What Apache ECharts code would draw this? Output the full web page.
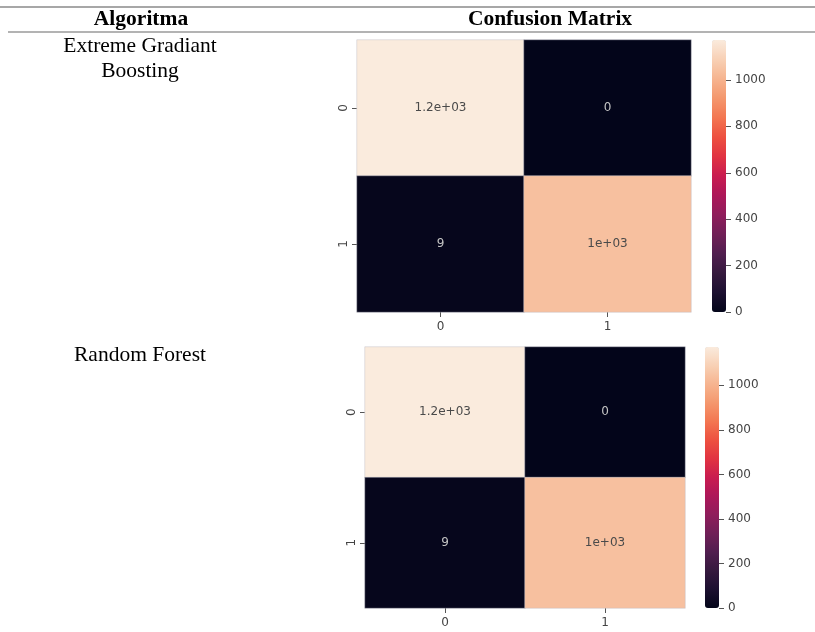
<!DOCTYPE html>
<html>
<head>
<meta charset="utf-8">
<script src="https://cdn.jsdelivr.net/npm/echarts@6/dist/echarts.min.js"></script>
<style>
html,body{margin:0;padding:0;background:#fff;}
#c{width:815px;height:632px;}
</style>
</head>
<body>
<div id="c"></div>
<script>
// ---- data ----
var classLabels = ['0', '1'];
var algorithms = ['Extreme Gradiant\nBoosting', 'Random Forest'];
// confusion matrices [row][col] (row = true label, col = predicted)
var xgbMatrix = [[1172, 0], [9, 1040]];
var rfMatrix = [[1172, 0], [9, 1040]];
var colorbarTicks = [0, 200, 400, 600, 800, 1000];
var headers = ['Algoritma', 'Confusion Matrix'];

// rocket colormap stops
var rocket = ['#03051a', '#1c1030', '#35193e', '#511e4f', '#701f57', '#8f1d5b', '#ad1759', '#c91c50', '#e13342', '#ed5040', '#f37651', '#f4976d', '#f6b48f', '#f8d0b5', '#faebdd'];

function fmt2g(v) {
  if (v === 0) return '0';
  var e = Math.floor(Math.log10(Math.abs(v)));
  if (e >= 2 || e < -4) {
    var m = (v / Math.pow(10, e)).toPrecision(2);
    if (m.indexOf('.') >= 0) m = m.replace(/0+$/, '').replace(/\.$/, '');
    return m + 'e' + (e < 0 ? '-' : '+') + (Math.abs(e) < 10 ? '0' : '') + Math.abs(e);
  }
  return String(Number(v.toPrecision(2)));
}

function buildData(mat) {
  var mx = 0;
  mat.forEach(function (r) { r.forEach(function (v) { mx = Math.max(mx, v); }); });
  var out = [];
  for (var r = 0; r < mat.length; r++) {
    for (var c = 0; c < mat[r].length; c++) {
      var v = mat[r][c];
      out.push({
        value: [c, r, v],
        label: { color: v > mx * 0.55 ? '#4a4a4a' : '#c4c4c4' }
      });
    }
  }
  return { data: out, max: mx };
}

var d1 = buildData(xgbMatrix);
var d2 = buildData(rfMatrix);

var panels = [
  { left: 357, top: 40, width: 334, height: 272, cbLeft: 712, d: d1 },
  { left: 365, top: 347, width: 320, height: 261, cbLeft: 705, d: d2 }
];

var grids = [], xAxes = [], yAxes = [], series = [], visualMaps = [];
var axisFont = { fontFamily: 'DejaVu Sans', fontSize: 12, color: '#444' };

panels.forEach(function (p, i) {
  grids.push({ left: p.left, top: p.top, width: p.width, height: p.height });
  xAxes.push({
    type: 'category', gridIndex: 2 * i, data: classLabels, position: 'bottom',
    axisLine: { show: false },
    axisTick: { show: true, alignWithLabel: true, length: 5, lineStyle: { color: '#555' } },
    axisLabel: Object.assign({ margin: 9 }, axisFont),
    splitArea: { show: false }, splitLine: { show: false }
  });
  yAxes.push({
    type: 'category', gridIndex: 2 * i, data: classLabels, inverse: true,
    axisLine: { show: false },
    axisTick: { show: true, alignWithLabel: true, length: 5, lineStyle: { color: '#555' } },
    axisLabel: Object.assign({ rotate: 90, margin: 7 }, axisFont),
    splitArea: { show: false }, splitLine: { show: false }
  });
  series.push({
    type: 'heatmap', xAxisIndex: 2 * i, yAxisIndex: 2 * i,
    data: p.d.data,
    itemStyle: { borderColor: 'rgba(190,190,200,0.55)', borderWidth: 0.8 },
    label: {
      show: true, fontFamily: 'DejaVu Sans', fontSize: 12,
      formatter: function (prm) { return fmt2g(prm.value[2]); }
    },
    emphasis: { disabled: true }
  });
  visualMaps.push({
    type: 'continuous', seriesIndex: i, min: 0, max: p.d.max,
    orient: 'vertical', left: p.cbLeft, top: p.top,
    itemWidth: 14, itemHeight: p.height, padding: 0,
    text: null, showLabel: false, calculable: false, realtime: false,
    hoverLink: false,
    inRange: { color: rocket }
  });
  grids.push({ left: p.cbLeft, top: p.top, width: 14, height: p.height });
  xAxes.push({ type: 'category', gridIndex: 2 * i + 1, data: [''], show: false });
  yAxes.push({
    type: 'value', gridIndex: 2 * i + 1, min: 0, max: p.d.max, position: 'right',
    axisLine: { show: false },
    splitLine: { show: false },
    axisTick: { show: true, inside: false, length: 5, lineStyle: { color: '#555' }, customValues: colorbarTicks },
    axisLabel: Object.assign({ margin: 9, customValues: colorbarTicks, formatter: function (v) { return String(v); } }, axisFont)
  });
});

var serif = 'Liberation Serif, Times New Roman, serif';
var graphics = [
  { type: 'line', shape: { x1: 0, y1: 7, x2: 815, y2: 7 }, style: { stroke: '#8a8a8a', lineWidth: 1.5 }, z: 10 },
  { type: 'line', shape: { x1: 8, y1: 32, x2: 815, y2: 32 }, style: { stroke: '#9a9a9a', lineWidth: 1.5 }, z: 0 },
  { type: 'text', x: 141, y: 19, style: { text: headers[0], font: 'bold 21.5px ' + serif, fill: '#000', textAlign: 'center', textVerticalAlign: 'middle' } },
  { type: 'text', x: 550, y: 19, style: { text: headers[1], font: 'bold 21.5px ' + serif, fill: '#000', textAlign: 'center', textVerticalAlign: 'middle' } },
  { type: 'text', x: 140, y: 59, style: { text: algorithms[0], font: '21.5px ' + serif, fill: '#000', textAlign: 'center', textVerticalAlign: 'middle', lineHeight: 25 } },
  { type: 'text', x: 140, y: 355, style: { text: algorithms[1], font: '21.5px ' + serif, fill: '#000', textAlign: 'center', textVerticalAlign: 'middle' } }
];

var chart = echarts.init(document.getElementById('c'), null, { renderer: 'canvas' });
chart.setOption({
  animation: false,
  backgroundColor: '#fff',
  grid: grids,
  xAxis: xAxes,
  yAxis: yAxes,
  visualMap: visualMaps,
  series: series,
  graphic: graphics
});
</script>
</body>
</html>
